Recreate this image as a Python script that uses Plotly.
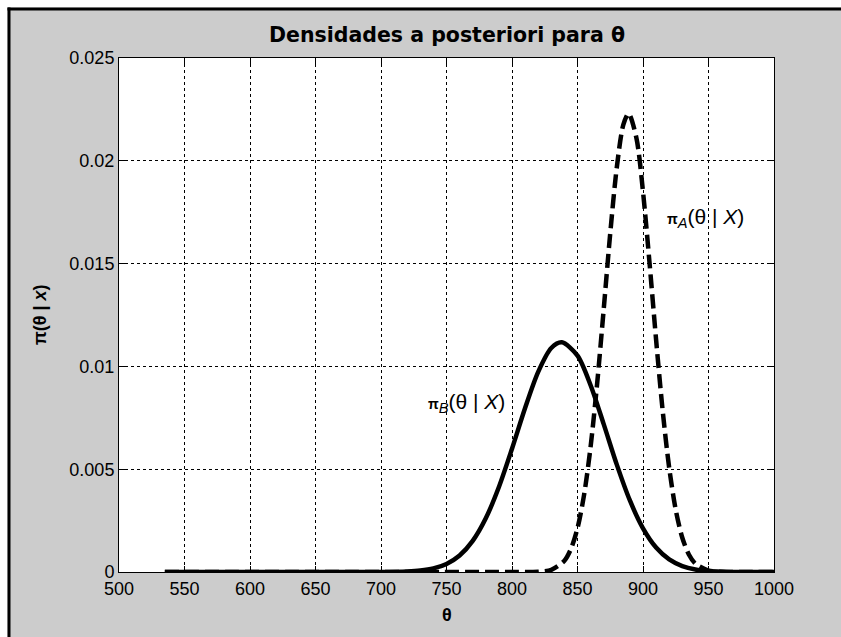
import plotly.graph_objects as go

# ---- data ----
theta_B = [535, 700, 720, 730, 740, 750, 760, 770, 780, 790, 800, 810, 820, 830, 838,
           850, 860, 870, 880, 890, 900, 910, 920, 930, 940, 950, 960, 975, 1000]
dens_B = [0, 0.000001, 0.000027, 0.000072, 0.000176, 0.000393, 0.000805, 0.001516,
          0.002614, 0.004135, 0.005998, 0.007979, 0.009735, 0.010894, 0.01117,
          0.010524, 0.009085, 0.007193, 0.005222, 0.003478, 0.002124, 0.001189,
          0.000611, 0.000288, 0.000124, 0.000049, 0.000018, 0.000002, 0]

theta_A = [535, 800, 820, 830, 840, 845, 850, 855, 860, 865, 870, 875, 880, 885, 889,
           895, 900, 905, 910, 915, 920, 925, 930, 935, 940, 950, 960, 975, 1000]
dens_A = [0, 0, 0.000014, 0.000104, 0.000548, 0.001124, 0.002132, 0.003745, 0.00609,
          0.009168, 0.012776, 0.01648, 0.01968, 0.02176, 0.0223, 0.0211, 0.0185,
          0.015023, 0.011293, 0.007856, 0.005062, 0.003018, 0.001666, 0.000852,
          0.000403, 0.000071, 0.000009, 0, 0]

x_ticks = [500, 550, 600, 650, 700, 750, 800, 850, 900, 950, 1000]
y_ticks = [0, 0.005, 0.01, 0.015, 0.02, 0.025]
y_ticklabels = ["0", "0.005", "0.01", "0.015", "0.02", "0.025"]

title_text = "<b>Densidades a posteriori para θ</b>"
xlabel_text = "<b>θ</b>"
ylabel_text = "<b>π(θ | <i>x</i>)</b>"
label_A = "<span style='font-size:14px'><b>π</b></span><sub><i>A</i></sub>(θ | <i>X</i>)"
label_B = "<span style='font-size:14px'><b>π</b></span><sub><i>B</i></sub>(θ | <i>X</i>)"

FONT = "Liberation Sans, Arial, sans-serif"
TFONT = "DejaVu Sans, Liberation Sans, sans-serif"
GRAY = "#cccccc"

fig = go.Figure()
fig.add_trace(go.Scatter(x=theta_B, y=dens_B, mode="lines",
                         line=dict(color="black", width=4.5, shape="spline", smoothing=0.8),
                         showlegend=False, hoverinfo="skip"))
fig.add_trace(go.Scatter(x=theta_A, y=dens_A, mode="lines",
                         line=dict(color="black", width=4.5, dash="14px,6px",
                                   shape="spline", smoothing=0.8),
                         showlegend=False, hoverinfo="skip"))

L, R, T, B = 119, 774, 58, 572
W, H = 841, 637
pw, ph = R - L, B - T


def px_x(p):
    return (p - L) / pw


def px_y(p):
    return (B - p) / ph


axis_common = dict(showline=True, linecolor="black", linewidth=1, mirror="ticks",
                   ticks="inside", ticklen=6, tickcolor="black", tickwidth=1,
                   showgrid=True, gridcolor="black", gridwidth=1, griddash="3px,3px",
                   zeroline=False, tickfont=dict(family=FONT, size=18, color="black"))

fig.update_xaxes(range=[500, 1000], tickmode="array", tickvals=x_ticks,
                 ticktext=[str(v) for v in x_ticks], **axis_common)
fig.update_yaxes(range=[0, 0.025], tickmode="array", tickvals=y_ticks,
                 ticktext=y_ticklabels, **axis_common)

shapes = [
    # white outer strips and black figure frame (top/left visible)
    dict(type="rect", xref="paper", yref="paper", x0=px_x(-20), x1=px_x(7.5),
         y0=px_y(H + 40), y1=px_y(-20), fillcolor="white", line=dict(width=0), layer="below"),
    dict(type="rect", xref="paper", yref="paper", x0=px_x(-20), x1=px_x(W + 40),
         y0=px_y(7.5), y1=px_y(-20), fillcolor="white", line=dict(width=0), layer="below"),
    dict(type="line", xref="paper", yref="paper", x0=px_x(9), x1=px_x(9),
         y0=px_y(H + 40), y1=px_y(7.5), line=dict(color="black", width=3), layer="below"),
    dict(type="line", xref="paper", yref="paper", x0=px_x(7.5), x1=px_x(W + 40),
         y0=px_y(9), y1=px_y(9), line=dict(color="black", width=3), layer="below"),
]

annotations = [
    dict(text=title_text, xref="paper", yref="paper", x=0.5, y=px_y(35),
         xanchor="center", yanchor="middle", showarrow=False,
         font=dict(family=TFONT, size=20.5, color="black")),
    dict(text=xlabel_text, xref="paper", yref="paper", x=0.5, y=px_y(615),
         xanchor="center", yanchor="middle", showarrow=False,
         font=dict(family=FONT, size=18, color="black")),
    dict(text=ylabel_text, xref="paper", yref="paper", x=px_x(40), y=0.5,
         xanchor="center", yanchor="middle", showarrow=False, textangle=-90,
         font=dict(family=FONT, size=18, color="black")),
    dict(text=label_A, xref="paper", yref="paper", x=px_x(665), y=px_y(218),
         xanchor="left", yanchor="middle", showarrow=False,
         font=dict(family=FONT, size=21, color="black")),
    dict(text=label_B, xref="paper", yref="paper", x=px_x(426), y=px_y(403),
         xanchor="left", yanchor="middle", showarrow=False,
         font=dict(family=FONT, size=21, color="black")),
]

fig.update_layout(width=W, height=H, margin=dict(l=L, r=W - R, t=T, b=H - B, pad=0),
                  paper_bgcolor=GRAY, plot_bgcolor="white",
                  shapes=shapes, annotations=annotations,
                  font=dict(family=FONT, color="black"))

fig.write_html("out.html", config={"displayModeBar": False},
               post_script="document.body.style.margin='0';document.body.style.overflow='hidden';")
